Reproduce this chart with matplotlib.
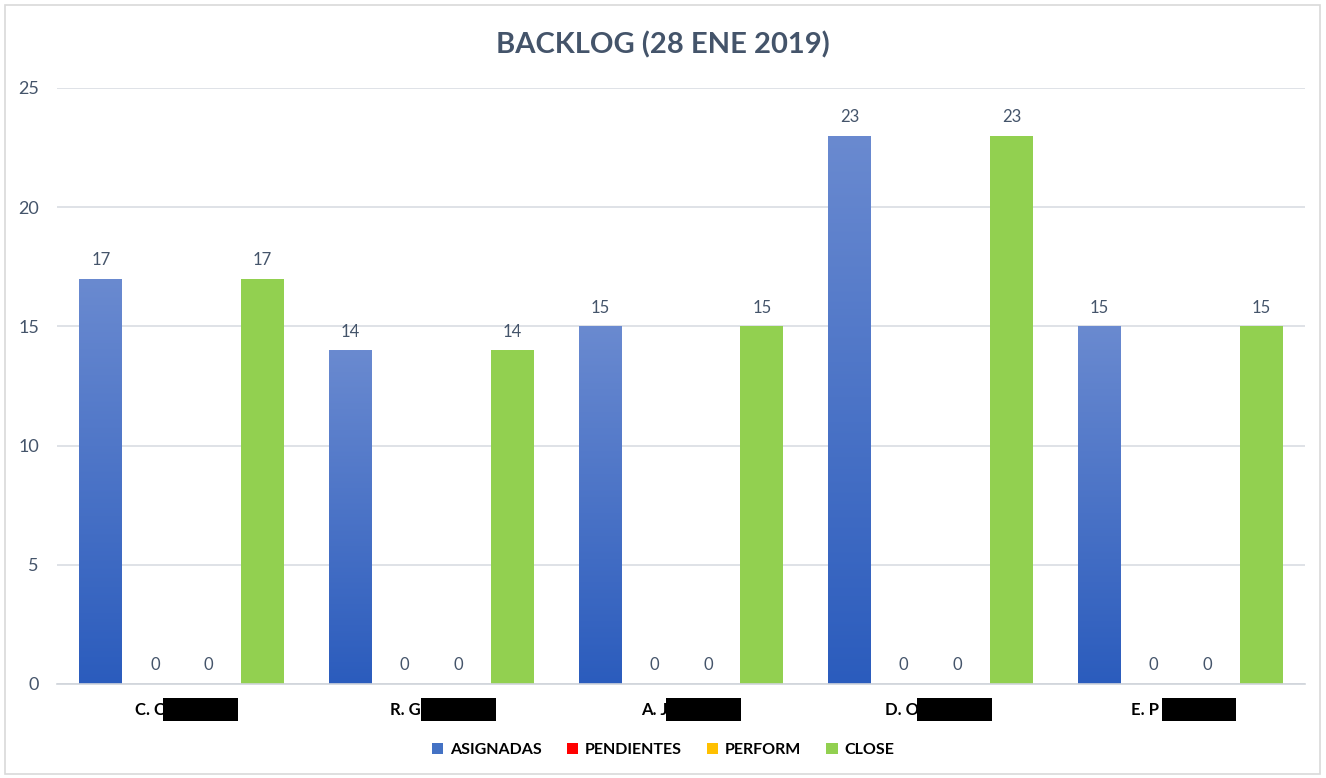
import numpy as np
import matplotlib.pyplot as plt
from matplotlib.patches import Rectangle
from matplotlib.transforms import blended_transform_factory
from matplotlib.colors import LinearSegmentedColormap

plt.rcParams['font.family'] = ['Lato', 'DejaVu Sans']

# datos
nombres = ["C. C", "R. G", "A. J", "D. O", "E. P"]
series = ["ASIGNADAS", "PENDIENTES", "PERFORM", "CLOSE"]
asignadas = [17, 14, 15, 23, 15]
pendientes = [0, 0, 0, 0, 0]
perform = [0, 0, 0, 0, 0]
close = [17, 14, 15, 23, 15]
colores = ["#4472c4", "#ff0000", "#ffc000", "#92d050"]

valores = [asignadas, pendientes, perform, close]

fig = plt.figure(figsize=(13.26, 7.78), dpi=100)
ax = fig.add_axes([57 / 1326, (778 - 684) / 778, 1248 / 1326, 596 / 778])

x = np.arange(len(nombres))
ancho = 0.172
paso = 0.216
contenedores = []
for i, (serie, vals, col) in enumerate(zip(series, valores, colores)):
    desp = (i - 1.5) * paso
    c = ax.bar(x + desp, vals, ancho, color=col, label=serie, zorder=2)
    contenedores.append(c)
    for xi, v in zip(x + desp, vals):
        ax.text(xi, v + 0.45, str(v), ha="center", va="bottom",
                fontsize=12, color="#44546a", zorder=3)

# degradado en las barras azules
cmap = LinearSegmentedColormap.from_list("azul", ["#2b5cbd", "#6a8ad0"])
grad = np.linspace(0, 1, 256).reshape(-1, 1)
for barra in contenedores[0]:
    bx, by = barra.get_x(), barra.get_y()
    bw, bh = barra.get_width(), barra.get_height()
    im = ax.imshow(grad, cmap=cmap, aspect="auto", origin="lower",
                   extent=(bx, bx + bw, by, by + bh), zorder=2.5)
    im.set_clip_path(barra)
ax.set_xlim(-0.5, len(nombres) - 0.5)
ax.set_ylim(0, 25)

ax.set_yticks([0, 5, 10, 15, 20, 25])
ax.yaxis.grid(True, color="#d9dde3", linewidth=1.2, zorder=0)
ax.tick_params(axis="y", length=0, labelsize=13, labelcolor="#44546a", pad=13)
ax.set_xticks([])
for s in ["top", "right", "left"]:
    ax.spines[s].set_visible(False)
ax.spines["bottom"].set_color("#d0d4da")
ax.spines["bottom"].set_linewidth(1.2)

# etiquetas de categoria (nombres tapados)
tr = blended_transform_factory(ax.transData, fig.transFigure)
inicio = [-0.188, -0.164, -0.160, -0.184, -0.196]
cajas = [(-0.076, 0.224), (-0.040, 0.260), (-0.060, 0.240), (-0.056, 0.244), (-0.074, 0.224)]
for i, n in enumerate(nombres):
    ax.text(i + inicio[i], (778 - 710) / 778, n, transform=tr, ha="left", va="center",
            fontsize=12, fontweight="bold", color="black")
    a, b = cajas[i]
    ax.add_patch(Rectangle((i + a, (778 - 721) / 778), b - a, 23 / 778, transform=tr,
                           facecolor="black", edgecolor="none", clip_on=False, zorder=5))

fig.text(0.5, (778 - 45) / 778, "BACKLOG (28 ENE 2019)", ha="center", va="center",
         fontsize=21, fontweight="bold", color="#44546a")

leg = fig.legend(loc="center", bbox_to_anchor=(0.5, (778 - 750) / 778), ncol=4,
                 frameon=False, handlelength=0.7, handleheight=0.7, handletextpad=0.4,
                 columnspacing=1.6, prop={"weight": "bold", "size": 11.5})

fig.patches.append(Rectangle((5 / 1326, 4 / 778), 1315 / 1326, 769 / 778,
                             transform=fig.transFigure, fill=False,
                             edgecolor="#d9d9d9", linewidth=1.2))

fig.savefig("out.png", dpi=100)
